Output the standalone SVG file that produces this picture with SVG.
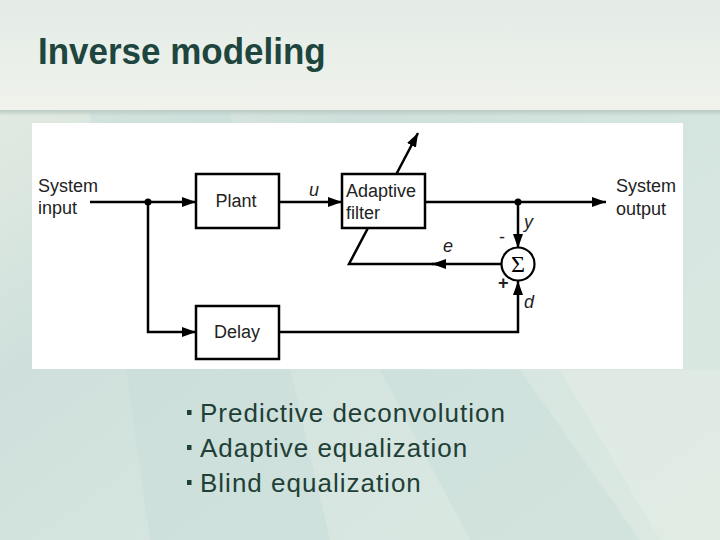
<svg xmlns="http://www.w3.org/2000/svg" width="720" height="540" viewBox="0 0 720 540">
<defs>
<linearGradient id="hdr" x1="0" y1="0" x2="0" y2="1">
<stop offset="0" stop-color="#e3ebe6"/>
<stop offset="1" stop-color="#f0f3ec"/>
</linearGradient>
<linearGradient id="bg" x1="0" y1="0" x2="1" y2="1">
<stop offset="0" stop-color="#e9eee4"/>
<stop offset="0.35" stop-color="#cfe0dc"/>
<stop offset="0.7" stop-color="#d7e6e0"/>
<stop offset="1" stop-color="#dde9e3"/>
</linearGradient>
<linearGradient id="shadow" x1="0" y1="0" x2="0" y2="1">
<stop offset="0" stop-color="#b9cbc3"/>
<stop offset="1" stop-color="#b9cbc3" stop-opacity="0"/>
</linearGradient>
<marker id="ah" viewBox="0 0 14 10" refX="14" refY="5" markerWidth="14" markerHeight="10" markerUnits="userSpaceOnUse" orient="auto">
<path d="M0,0 L14,5 L0,10 Z" fill="#000"/>
</marker>
<style>
.ln{fill:none;stroke:#000;stroke-width:2.5}
.box{fill:#fff;stroke:#000;stroke-width:2.5}
.lbl{font-family:"Liberation Sans",Arial,sans-serif;font-size:18px;fill:#222}
.it{font-family:"Liberation Sans",Arial,sans-serif;font-size:18px;font-style:italic;fill:#222}
.bul{font-family:"Liberation Sans",Arial,sans-serif;font-size:26px;letter-spacing:1px;fill:#1f3f37}
</style>
</defs>
<rect x="0" y="0" width="720" height="540" fill="url(#bg)"/>
<polygon points="90,112 230,112 330,540 150,540" fill="#c6dcda" opacity="0.45"/>
<polygon points="380,370 520,370 640,540 470,540" fill="#c3d9d6" opacity="0.35"/>
<polygon points="560,370 720,370 720,540 660,540" fill="#e4ede5" opacity="0.5"/>
<rect x="0" y="0" width="720" height="110" fill="url(#hdr)"/>
<rect x="0" y="110" width="720" height="6" fill="url(#shadow)"/>
<text x="38" y="64" font-family="'Liberation Sans',Arial,sans-serif" font-size="35" font-weight="bold" fill="#1e463e" transform="translate(38 64) scale(1.0 1.04) translate(-38 -64)">Inverse modeling</text>
<rect x="32" y="123" width="651" height="246" fill="#fff"/>
<g id="connectors">
<path class="ln" d="M90,202 H196" marker-end="url(#ah)"/>
<path class="ln" d="M279,202 H342" marker-end="url(#ah)"/>
<path class="ln" d="M425,202 H606" marker-end="url(#ah)"/>
<path class="ln" d="M148,202 V332 H196" marker-end="url(#ah)"/>
<path class="ln" d="M279,332 H518 V281" marker-end="url(#ah)"/>
<path class="ln" d="M518,202 V248" marker-end="url(#ah)"/>
<path class="ln" d="M502,264 H432" marker-end="url(#ah)"/>
<path class="ln" d="M440,264 H349 L418,133" marker-end="url(#ah)"/>
<circle cx="148" cy="202" r="3.5" fill="#000"/>
<circle cx="518" cy="202" r="3.5" fill="#000"/>
</g>
<g id="system-input"><text class="lbl" x="38" y="192">System</text><text class="lbl" x="38" y="214">input</text></g>
<g id="plant"><rect class="box" x="196" y="174" width="83" height="54"/><text class="lbl" x="236" y="207" text-anchor="middle">Plant</text></g>
<g id="adaptive-filter"><rect class="box" x="342" y="174" width="83" height="54"/><text class="lbl" x="346" y="197">Adaptive</text><text class="lbl" x="346" y="219">filter</text></g>
<g id="delay"><rect class="box" x="196" y="306" width="83" height="53"/><text class="lbl" x="237" y="338" text-anchor="middle">Delay</text></g>
<g id="sum"><circle cx="518" cy="264" r="16.5" fill="#fff" stroke="#000" stroke-width="2.2"/><text x="518" y="272" text-anchor="middle" font-family="'Liberation Serif','Times New Roman',serif" font-size="24" fill="#000">Σ</text><text class="lbl" x="499" y="243">-</text><text class="lbl" x="498" y="289" font-weight="bold">+</text></g>
<g id="system-output"><text class="lbl" x="616" y="192">System</text><text class="lbl" x="616" y="215">output</text></g>
<text class="it" x="309" y="196">u</text>
<text class="it" x="524" y="228">y</text>
<text class="it" x="443" y="252">e</text>
<text class="it" x="524" y="308">d</text>
<g id="bullets">
<rect x="187" y="410" width="4.5" height="5" fill="#1f3f37"/>
<text class="bul" x="200" y="422">Predictive deconvolution</text>
<rect x="187" y="445" width="4.5" height="5" fill="#1f3f37"/>
<text class="bul" x="200" y="457">Adaptive equalization</text>
<rect x="187" y="480" width="4.5" height="5" fill="#1f3f37"/>
<text class="bul" x="200" y="492">Blind equalization</text>
</g>
</svg>
